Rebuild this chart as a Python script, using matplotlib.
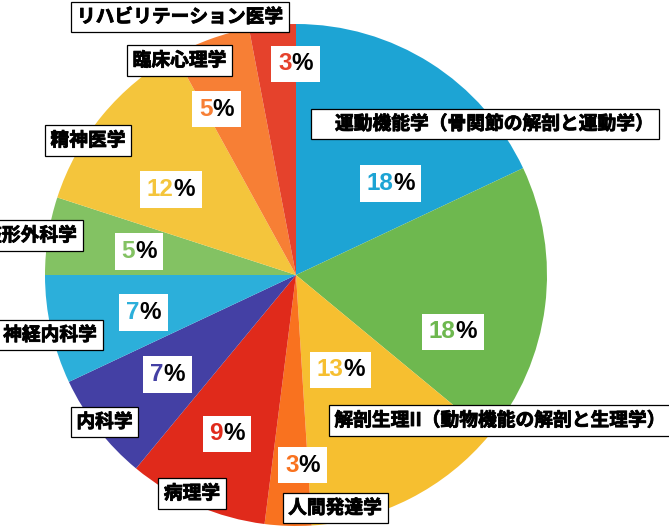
import matplotlib
matplotlib.use("Agg")
import matplotlib.pyplot as plt
import matplotlib.patheffects as pe

# ---- data ----
categories = ["運動機能学（骨関節の解剖と運動学）", "", "解剖生理II（動物機能の解剖と生理学）",
              "人間発達学", "病理学", "内科学", "神経内科学", "整形外科学", "精神医学",
              "臨床心理学", "リハビリテーション医学"]
values = [18, 18, 13, 3, 9, 7, 7, 5, 12, 5, 3]
colors = ["#1DA4D4", "#6EB84F", "#F6BF30", "#F9721F", "#E02A1B", "#4440A4",
          "#2CAFDA", "#83C263", "#F4C53C", "#F77F35", "#E5422C"]

# ---- layout (pixel positions, top-left origin) ----
W, H = 669, 532
CX, CY, R = 296, 275, 251
name_pos = [(485, 124), None, (500, 420.5), (335, 508), (192, 493.5), (104.5, 422),
            (50, 335), (30, 235.5), (88, 140.5), (179.5, 60.5), (180, 17)]
pct_pos = [(390.5, 183.5), (453, 332), (340.5, 370), (302.5, 465), (227, 434),
           (167.5, 374.5), (143.5, 312.5), (139, 251.5), (171, 189.5),
           (216.5, 109), (295.5, 64)]
name_prefix = ["　", "", "", "", "", "", "", "", "", "", ""]

fig = plt.figure(figsize=(W / 100, H / 100), dpi=100)
ax = fig.add_axes([0, 0, 1, 1])
ax.pie(values, colors=colors, startangle=90, counterclock=False,
       center=(CX, H - CY), radius=R, wedgeprops=dict(linewidth=0))
ax.set_xlim(0, W)
ax.set_ylim(0, H)
ax.set_aspect("equal")
ax.axis("off")

jp = ["Noto Sans CJK JP", "DejaVu Sans"]
bold_fx = [pe.withStroke(linewidth=0.6, foreground="black")]
for name, pos, pre in zip(categories, name_pos, name_prefix):
    if not name or pos is None:
        continue
    ax.text(pos[0], H - pos[1], pre + name, ha="center", va="center",
            family=jp, fontweight="bold", fontsize=13.5, color="black",
            path_effects=bold_fx,
            bbox=dict(boxstyle="square,pad=0.3", fc="white", ec="black", lw=0.9))

latin = ["Liberation Sans", "DejaVu Sans"]
pct_texts = []
for v, pos in zip(values, pct_pos):
    t = ax.text(pos[0], H - pos[1], f"{v}%", ha="center", va="center",
                family=latin, fontweight="bold", fontsize=17.5,
                color=(0, 0, 0, 0),
                bbox=dict(boxstyle="square,pad=0.28", fc="white", ec="none"))
    pct_texts.append(t)

fig.canvas.draw()
renderer = fig.canvas.get_renderer()
inv = ax.transData.inverted()
for v, t, c, pos in zip(values, pct_texts, colors, pct_pos):
    ext = t.get_window_extent(renderer)
    x0, _ = inv.transform((ext.x0, ext.y0))
    x1, _ = inv.transform((ext.x1, ext.y0))
    ax.text(x0, H - pos[1], f"{v}", ha="left", va="center",
            family=latin, fontweight="bold", fontsize=17.5, color=c)
    ax.text(x1, H - pos[1], "%", ha="right", va="center",
            family=latin, fontweight="bold", fontsize=17.5, color="black")

fig.savefig("out.png", dpi=100)
